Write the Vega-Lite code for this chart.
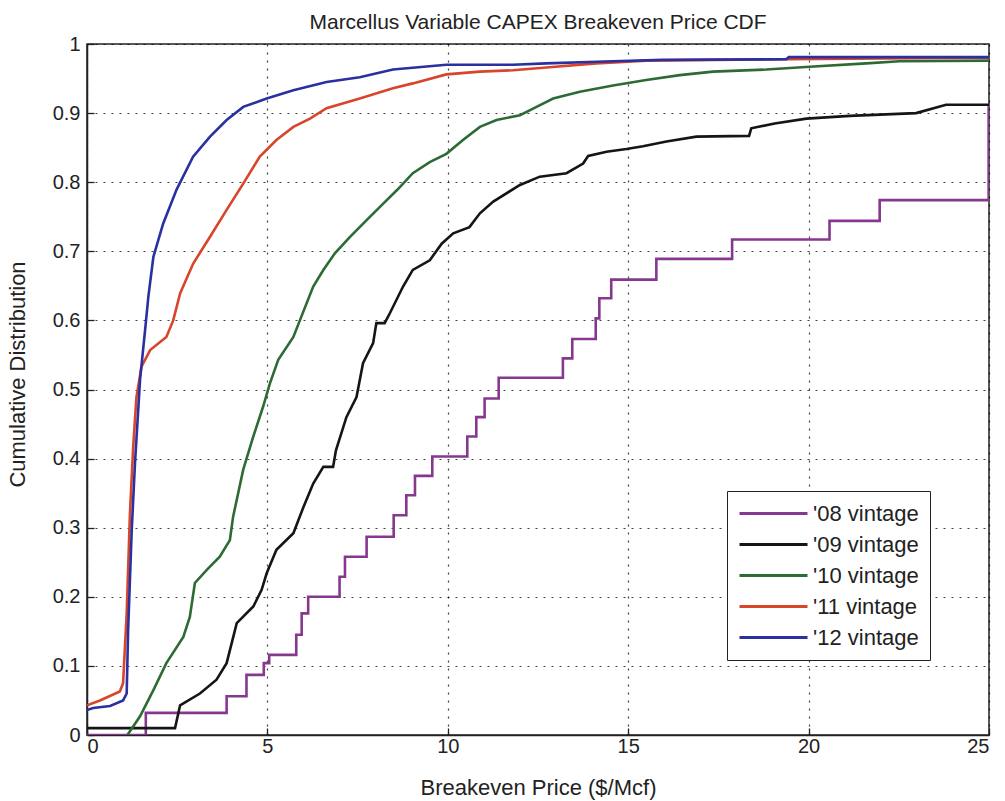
{
  "$schema": "https://vega.github.io/schema/vega-lite/v6.json",
  "width": 902,
  "height": 691,
  "autosize": {"type": "none"},
  "padding": {"left": 87, "top": 44, "right": 16, "bottom": 66},
  "background": "white",
  "config": {
    "font": "Liberation Sans",
    "view": {"stroke": "#222", "strokeWidth": 1.5},
    "axis": {
      "domainColor": "#222",
      "domainWidth": 1.5,
      "tickColor": "#222",
      "tickWidth": 1.3,
      "tickSize": -7,
      "grid": true,
      "gridColor": "#000",
      "gridDash": [2, 6],
      "gridWidth": 1.2,
      "gridOpacity": 0.75,
      "labelFont": "Liberation Sans",
      "labelFontSize": 20,
      "labelColor": "#222",
      "titleFont": "Liberation Sans",
      "titleFontSize": 22,
      "titleFontWeight": "normal",
      "titleColor": "#222"
    }
  },
  "title": {
    "text": "Marcellus Variable CAPEX Breakeven Price CDF",
    "font": "Liberation Sans",
    "fontSize": 21,
    "fontWeight": "normal",
    "color": "#222",
    "offset": 1
  },
  "datasets": {
    "v08": [
      {"series": "'08 vintage", "x": 0, "y": 0},
      {"series": "'08 vintage", "x": 1.63, "y": 0.032},
      {"series": "'08 vintage", "x": 3.87, "y": 0.056},
      {"series": "'08 vintage", "x": 4.42, "y": 0.087},
      {"series": "'08 vintage", "x": 4.9, "y": 0.104},
      {"series": "'08 vintage", "x": 5.05, "y": 0.116},
      {"series": "'08 vintage", "x": 5.8, "y": 0.145},
      {"series": "'08 vintage", "x": 5.95, "y": 0.176},
      {"series": "'08 vintage", "x": 6.13, "y": 0.2},
      {"series": "'08 vintage", "x": 7.0, "y": 0.229},
      {"series": "'08 vintage", "x": 7.15, "y": 0.258},
      {"series": "'08 vintage", "x": 7.75, "y": 0.287},
      {"series": "'08 vintage", "x": 8.5, "y": 0.318},
      {"series": "'08 vintage", "x": 8.85, "y": 0.347},
      {"series": "'08 vintage", "x": 9.09, "y": 0.375},
      {"series": "'08 vintage", "x": 9.57, "y": 0.403},
      {"series": "'08 vintage", "x": 10.54, "y": 0.432},
      {"series": "'08 vintage", "x": 10.79, "y": 0.46},
      {"series": "'08 vintage", "x": 11.02, "y": 0.487},
      {"series": "'08 vintage", "x": 11.41, "y": 0.517},
      {"series": "'08 vintage", "x": 13.19, "y": 0.545},
      {"series": "'08 vintage", "x": 13.45, "y": 0.573},
      {"series": "'08 vintage", "x": 14.1, "y": 0.603},
      {"series": "'08 vintage", "x": 14.2, "y": 0.632},
      {"series": "'08 vintage", "x": 14.53, "y": 0.659},
      {"series": "'08 vintage", "x": 15.78, "y": 0.689},
      {"series": "'08 vintage", "x": 17.88, "y": 0.717},
      {"series": "'08 vintage", "x": 20.58, "y": 0.744},
      {"series": "'08 vintage", "x": 21.97, "y": 0.774},
      {"series": "'08 vintage", "x": 24.99, "y": 0.91}
    ],
    "others": [
      {"series": "'09 vintage", "x": 0, "y": 0.01},
      {"series": "'09 vintage", "x": 2.44, "y": 0.01},
      {"series": "'09 vintage", "x": 2.58, "y": 0.043},
      {"series": "'09 vintage", "x": 3.13, "y": 0.06},
      {"series": "'09 vintage", "x": 3.59, "y": 0.08},
      {"series": "'09 vintage", "x": 3.87, "y": 0.104},
      {"series": "'09 vintage", "x": 4.15, "y": 0.162},
      {"series": "'09 vintage", "x": 4.61, "y": 0.186},
      {"series": "'09 vintage", "x": 4.84, "y": 0.21},
      {"series": "'09 vintage", "x": 4.98, "y": 0.234},
      {"series": "'09 vintage", "x": 5.25, "y": 0.268},
      {"series": "'09 vintage", "x": 5.72, "y": 0.292},
      {"series": "'09 vintage", "x": 6.0, "y": 0.33},
      {"series": "'09 vintage", "x": 6.27, "y": 0.364},
      {"series": "'09 vintage", "x": 6.55, "y": 0.388},
      {"series": "'09 vintage", "x": 6.82, "y": 0.388},
      {"series": "'09 vintage", "x": 6.9, "y": 0.412},
      {"series": "'09 vintage", "x": 7.19, "y": 0.46},
      {"series": "'09 vintage", "x": 7.47, "y": 0.489},
      {"series": "'09 vintage", "x": 7.65, "y": 0.538},
      {"series": "'09 vintage", "x": 7.93, "y": 0.567},
      {"series": "'09 vintage", "x": 8.02, "y": 0.596},
      {"series": "'09 vintage", "x": 8.25, "y": 0.596},
      {"series": "'09 vintage", "x": 8.39, "y": 0.61},
      {"series": "'09 vintage", "x": 8.76, "y": 0.649},
      {"series": "'09 vintage", "x": 9.03, "y": 0.673},
      {"series": "'09 vintage", "x": 9.5, "y": 0.687},
      {"series": "'09 vintage", "x": 9.83, "y": 0.711},
      {"series": "'09 vintage", "x": 10.15, "y": 0.726},
      {"series": "'09 vintage", "x": 10.6, "y": 0.735},
      {"series": "'09 vintage", "x": 10.89, "y": 0.755},
      {"series": "'09 vintage", "x": 11.26, "y": 0.772},
      {"series": "'09 vintage", "x": 12.0, "y": 0.796},
      {"series": "'09 vintage", "x": 12.55, "y": 0.808},
      {"series": "'09 vintage", "x": 13.29, "y": 0.813},
      {"series": "'09 vintage", "x": 13.75, "y": 0.827},
      {"series": "'09 vintage", "x": 13.89, "y": 0.838},
      {"series": "'09 vintage", "x": 14.4, "y": 0.844},
      {"series": "'09 vintage", "x": 14.95, "y": 0.848},
      {"series": "'09 vintage", "x": 15.41, "y": 0.852},
      {"series": "'09 vintage", "x": 16.06, "y": 0.859},
      {"series": "'09 vintage", "x": 16.89, "y": 0.866},
      {"series": "'09 vintage", "x": 18.35, "y": 0.867},
      {"series": "'09 vintage", "x": 18.41, "y": 0.878},
      {"series": "'09 vintage", "x": 19.06, "y": 0.885},
      {"series": "'09 vintage", "x": 19.94, "y": 0.892},
      {"series": "'09 vintage", "x": 21.14, "y": 0.896},
      {"series": "'09 vintage", "x": 22.98, "y": 0.9},
      {"series": "'09 vintage", "x": 23.81, "y": 0.912},
      {"series": "'09 vintage", "x": 25, "y": 0.912},
      {"series": "'10 vintage", "x": 1.12, "y": 0.0},
      {"series": "'10 vintage", "x": 1.47, "y": 0.027},
      {"series": "'10 vintage", "x": 1.84, "y": 0.065},
      {"series": "'10 vintage", "x": 2.2, "y": 0.104},
      {"series": "'10 vintage", "x": 2.67, "y": 0.142},
      {"series": "'10 vintage", "x": 2.85, "y": 0.171},
      {"series": "'10 vintage", "x": 2.99, "y": 0.22},
      {"series": "'10 vintage", "x": 3.32, "y": 0.239},
      {"series": "'10 vintage", "x": 3.68, "y": 0.258},
      {"series": "'10 vintage", "x": 3.96, "y": 0.282},
      {"series": "'10 vintage", "x": 4.05, "y": 0.316},
      {"series": "'10 vintage", "x": 4.33, "y": 0.384},
      {"series": "'10 vintage", "x": 4.61, "y": 0.432},
      {"series": "'10 vintage", "x": 4.88, "y": 0.475},
      {"series": "'10 vintage", "x": 5.07, "y": 0.509},
      {"series": "'10 vintage", "x": 5.3, "y": 0.543},
      {"series": "'10 vintage", "x": 5.72, "y": 0.576},
      {"series": "'10 vintage", "x": 5.9, "y": 0.6},
      {"series": "'10 vintage", "x": 6.27, "y": 0.649},
      {"series": "'10 vintage", "x": 6.55, "y": 0.673},
      {"series": "'10 vintage", "x": 6.87, "y": 0.697},
      {"series": "'10 vintage", "x": 7.29, "y": 0.721},
      {"series": "'10 vintage", "x": 7.75, "y": 0.745},
      {"series": "'10 vintage", "x": 8.21, "y": 0.769},
      {"series": "'10 vintage", "x": 8.6, "y": 0.789},
      {"series": "'10 vintage", "x": 9.03, "y": 0.813},
      {"series": "'10 vintage", "x": 9.5, "y": 0.829},
      {"series": "'10 vintage", "x": 9.96, "y": 0.841},
      {"series": "'10 vintage", "x": 10.42, "y": 0.861},
      {"series": "'10 vintage", "x": 10.89, "y": 0.88},
      {"series": "'10 vintage", "x": 11.35, "y": 0.89},
      {"series": "'10 vintage", "x": 12.0, "y": 0.897},
      {"series": "'10 vintage", "x": 12.46, "y": 0.909},
      {"series": "'10 vintage", "x": 12.92, "y": 0.921},
      {"series": "'10 vintage", "x": 13.66, "y": 0.931},
      {"series": "'10 vintage", "x": 14.58, "y": 0.94},
      {"series": "'10 vintage", "x": 15.5, "y": 0.948},
      {"series": "'10 vintage", "x": 16.43, "y": 0.955},
      {"series": "'10 vintage", "x": 17.35, "y": 0.96},
      {"series": "'10 vintage", "x": 18.83, "y": 0.963},
      {"series": "'10 vintage", "x": 20.03, "y": 0.967},
      {"series": "'10 vintage", "x": 21.6, "y": 0.972},
      {"series": "'10 vintage", "x": 22.52, "y": 0.975},
      {"series": "'10 vintage", "x": 25, "y": 0.976},
      {"series": "'11 vintage", "x": 0, "y": 0.043},
      {"series": "'11 vintage", "x": 0.36, "y": 0.05},
      {"series": "'11 vintage", "x": 0.91, "y": 0.063},
      {"series": "'11 vintage", "x": 1.0, "y": 0.075},
      {"series": "'11 vintage", "x": 1.1, "y": 0.176},
      {"series": "'11 vintage", "x": 1.19, "y": 0.32},
      {"series": "'11 vintage", "x": 1.28, "y": 0.417},
      {"series": "'11 vintage", "x": 1.37, "y": 0.489},
      {"series": "'11 vintage", "x": 1.51, "y": 0.533},
      {"series": "'11 vintage", "x": 1.75, "y": 0.557},
      {"series": "'11 vintage", "x": 2.2, "y": 0.576},
      {"series": "'11 vintage", "x": 2.39, "y": 0.6},
      {"series": "'11 vintage", "x": 2.58, "y": 0.639},
      {"series": "'11 vintage", "x": 2.94, "y": 0.682},
      {"series": "'11 vintage", "x": 3.41, "y": 0.721},
      {"series": "'11 vintage", "x": 3.87, "y": 0.76},
      {"series": "'11 vintage", "x": 4.33, "y": 0.798},
      {"series": "'11 vintage", "x": 4.79, "y": 0.837},
      {"series": "'11 vintage", "x": 5.25, "y": 0.861},
      {"series": "'11 vintage", "x": 5.72, "y": 0.88},
      {"series": "'11 vintage", "x": 6.18, "y": 0.892},
      {"series": "'11 vintage", "x": 6.64, "y": 0.907},
      {"series": "'11 vintage", "x": 7.56, "y": 0.921},
      {"series": "'11 vintage", "x": 8.48, "y": 0.936},
      {"series": "'11 vintage", "x": 9.03, "y": 0.943},
      {"series": "'11 vintage", "x": 9.96, "y": 0.956},
      {"series": "'11 vintage", "x": 10.89, "y": 0.96},
      {"series": "'11 vintage", "x": 11.81, "y": 0.962},
      {"series": "'11 vintage", "x": 12.73, "y": 0.966},
      {"series": "'11 vintage", "x": 14.12, "y": 0.972},
      {"series": "'11 vintage", "x": 15.5, "y": 0.976},
      {"series": "'11 vintage", "x": 17.35, "y": 0.977},
      {"series": "'11 vintage", "x": 19.5, "y": 0.978},
      {"series": "'11 vintage", "x": 22, "y": 0.979},
      {"series": "'11 vintage", "x": 25, "y": 0.98},
      {"series": "'12 vintage", "x": 0, "y": 0.036},
      {"series": "'12 vintage", "x": 0.17, "y": 0.039},
      {"series": "'12 vintage", "x": 0.64, "y": 0.042},
      {"series": "'12 vintage", "x": 1.0, "y": 0.05},
      {"series": "'12 vintage", "x": 1.1, "y": 0.06},
      {"series": "'12 vintage", "x": 1.14, "y": 0.152},
      {"series": "'12 vintage", "x": 1.24, "y": 0.297},
      {"series": "'12 vintage", "x": 1.33, "y": 0.393},
      {"series": "'12 vintage", "x": 1.47, "y": 0.514},
      {"series": "'12 vintage", "x": 1.61, "y": 0.586},
      {"series": "'12 vintage", "x": 1.7, "y": 0.634},
      {"series": "'12 vintage", "x": 1.84, "y": 0.692},
      {"series": "'12 vintage", "x": 2.11, "y": 0.74},
      {"series": "'12 vintage", "x": 2.48, "y": 0.789},
      {"series": "'12 vintage", "x": 2.94, "y": 0.837},
      {"series": "'12 vintage", "x": 3.41, "y": 0.866},
      {"series": "'12 vintage", "x": 3.87, "y": 0.89},
      {"series": "'12 vintage", "x": 4.33, "y": 0.909},
      {"series": "'12 vintage", "x": 4.98, "y": 0.921},
      {"series": "'12 vintage", "x": 5.72, "y": 0.933},
      {"series": "'12 vintage", "x": 6.64, "y": 0.945},
      {"series": "'12 vintage", "x": 7.56, "y": 0.952},
      {"series": "'12 vintage", "x": 8.48, "y": 0.963},
      {"series": "'12 vintage", "x": 9.96, "y": 0.97},
      {"series": "'12 vintage", "x": 11.81, "y": 0.97},
      {"series": "'12 vintage", "x": 12.73, "y": 0.972},
      {"series": "'12 vintage", "x": 14.58, "y": 0.975},
      {"series": "'12 vintage", "x": 15.96, "y": 0.977},
      {"series": "'12 vintage", "x": 19.38, "y": 0.978},
      {"series": "'12 vintage", "x": 19.45, "y": 0.981},
      {"series": "'12 vintage", "x": 25, "y": 0.981}
    ]
  },
  "encoding": {
    "x": {
      "field": "x",
      "type": "quantitative",
      "scale": {"domain": [0, 25], "nice": false, "zero": false},
      "axis": {"values": [0, 5, 10, 15, 20, 25], "title": "Breakeven Price ($/Mcf)", "labelPadding": 8, "titlePadding": 21}
    },
    "y": {
      "field": "y",
      "type": "quantitative",
      "scale": {"domain": [0, 1], "nice": false},
      "axis": {"values": [0, 0.1, 0.2, 0.3, 0.4, 0.5, 0.6, 0.7, 0.8, 0.9, 1], "format": "~g", "title": "Cumulative Distribution", "labelPadding": 14, "titlePadding": 23, "titleY": 330}
    },
    "color": {
      "field": "series",
      "type": "nominal",
      "scale": {
        "domain": ["'08 vintage", "'09 vintage", "'10 vintage", "'11 vintage", "'12 vintage"],
        "range": ["#86388f", "#151515", "#2e6a33", "#d8452a", "#2a30a0"]
      },
      "legend": {
        "title": null,
        "orient": "none",
        "legendX": 640,
        "legendY": 447,
        "symbolType": "M-1,0H5.8",
        "symbolSize": 400,
        "symbolStrokeWidth": 3,
        "labelFontSize": 22,
        "labelFont": "Liberation Sans",
        "labelColor": "#222",
        "labelOffset": 52,
        "rowPadding": 8,
        "padding": 11,
        "strokeColor": "#222",
        "fillColor": "white"
      }
    }
  },
  "layer": [
    {
      "data": {"name": "v08"},
      "mark": {"type": "line", "interpolate": "step-after", "strokeWidth": 2.6, "clip": true}
    },
    {
      "data": {"name": "others"},
      "mark": {"type": "line", "strokeWidth": 2.6, "clip": true}
    }
  ]
}
